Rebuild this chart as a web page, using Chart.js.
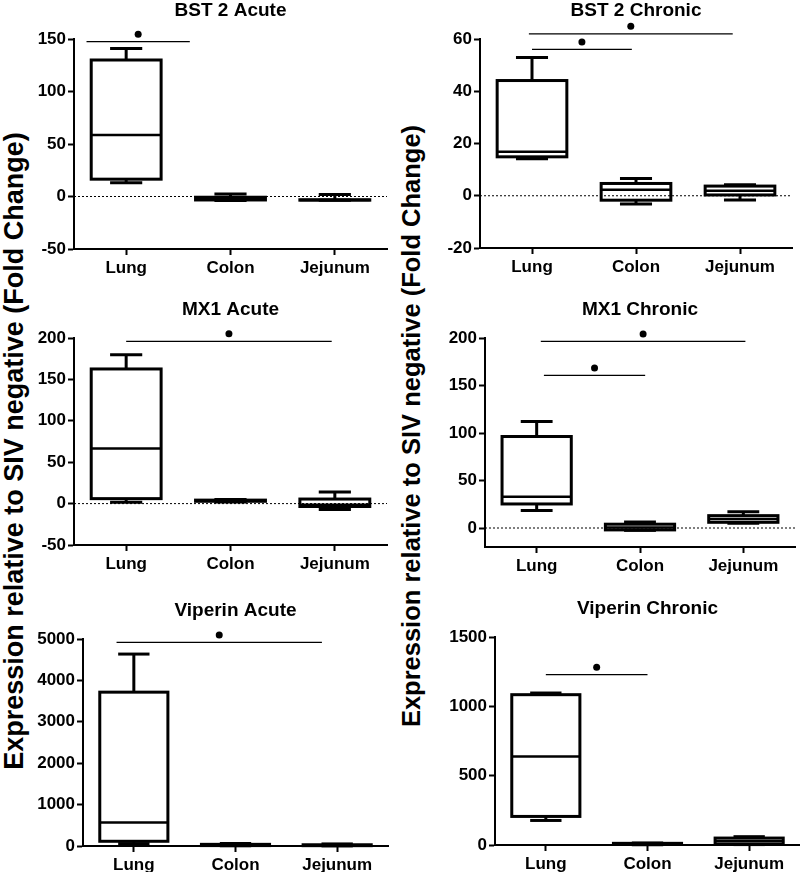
<!DOCTYPE html>
<html lang="en">
<head>
  <meta charset="UTF-8" />
  <title>ISG expression box plots</title>
  <script src="https://cdn.jsdelivr.net/npm/chart.js"></script>
  <style>
    body {
      margin: 0;
      background: #fff;
      width: 800px;
      height: 872px;
      overflow: hidden;
      position: relative;
      font-family: 'Liberation Sans', Arial, sans-serif;
    }
    canvas {
      position: absolute;
    }
    .ytitle {
      position: absolute;
      white-space: nowrap;
      font-weight: bold;
      color: #000;
      transform: translate(-50%, -50%) rotate(-90deg);
    }
  </style>
</head>
<body>
  <div class="ytitle" style="left:14px; top:451px; font-size:27px;">Expression relative to SIV negative (Fold Change)</div>
  <div class="ytitle" style="left:411px; top:426px; font-size:25.5px;">Expression relative to SIV negative (Fold Change)</div>

  <canvas id="bst2Acute"></canvas>
  <canvas id="bst2Chronic"></canvas>
  <canvas id="mx1Acute"></canvas>
  <canvas id="mx1Chronic"></canvas>
  <canvas id="viperinAcute"></canvas>
  <canvas id="viperinChronic"></canvas>

  <script>
    // ---- data ----
    const categories = ['Lung', 'Colon', 'Jejunum'];

    // each row: [min, q1, median, q3, max] for Lung, Colon, Jejunum
    const bst2Acute = [
      [13, 16.5, 58.5, 130, 141],
      [-3.8, -3.3, -2, -0.7, 2.5],
      [-3.6, -3.5, -3.3, -3.1, 2]
    ];
    const bst2Chronic = [
      [14.2, 14.9, 16.8, 44.1, 52.9],
      [-3.2, -1.7, 2.3, 4.7, 6.6],
      [-1.6, 0.3, 1.9, 3.7, 4.2]
    ];
    const mx1Acute = [
      [1.5, 6, 66.4, 162.6, 179.8],
      [2, 2.8, 3.5, 4.2, 5],
      [-7, -3.5, -1.5, 5.5, 14]
    ];
    const mx1Chronic = [
      [18.3, 25.3, 33, 96.3, 112],
      [-2.5, -2, 0.5, 4, 6.3],
      [5, 6, 9.5, 13, 17.2]
    ];
    const viperinAcute = [
      [58, 114, 567, 3716, 4636],
      [5, 10, 20, 40, 60],
      [3, 8, 15, 30, 50]
    ];
    const viperinChronic = [
      [177, 206, 639, 1084, 1096],
      [2, 4, 7, 12, 15],
      [3, 8, 28, 50, 60]
    ];

    // y axis ranges and tick labels
    const bst2AcuteRange = [-50, 150];
    const bst2ChronicRange = [-20, 60];
    const mx1AcuteRange = [-50, 200];
    const mx1ChronicRange = [-20, 200];
    const viperinAcuteRange = [0, 5000];
    const viperinChronicRange = [0, 1500];

    const bst2AcuteTicks = [-50, 0, 50, 100, 150];
    const bst2ChronicTicks = [-20, 0, 20, 40, 60];
    const mx1AcuteTicks = [-50, 0, 50, 100, 150, 200];
    const mx1ChronicTicks = [0, 50, 100, 150, 200];
    const viperinAcuteTicks = [0, 1000, 2000, 3000, 4000, 5000];
    const viperinChronicTicks = [0, 500, 1000, 1500];

    // significance bars: [from category, to category, y value]
    const bst2AcuteSig = [[-0.38, 0.61, 147.5]];
    const bst2ChronicSig = [[-0.03, 1.93, 62], [0, 0.96, 56]];
    const mx1AcuteSig = [[0, 1.97, 196]];
    const mx1ChronicSig = [[0.04, 2.02, 196.4], [0.07, 1.05, 160.6]];
    const viperinAcuteSig = [[-0.17, 1.85, 4918]];
    const viperinChronicSig = [[0, 1, 1228]];

    // ---- layout ----
    const FONT = "'Liberation Sans', Arial, sans-serif";
    const Y_W = 50, X_H = 30, PAD_TOP = 39, PAD_R = 4;

    Chart.defaults.font.family = FONT;
    Chart.defaults.color = '#000';

    // draws whiskers, box outlines, medians, zero line, significance bars and panel title
    const boxPlot = {
      id: 'boxPlot',
      afterDatasetsDraw(chart, args, opts) {
        const { ctx, chartArea } = chart;
        const x = chart.scales.x, y = chart.scales.y;
        const meta = chart.getDatasetMeta(0);
        ctx.save();
        ctx.strokeStyle = '#000';
        ctx.fillStyle = '#000';

        if (y.min < 0) {
          const zy = y.getPixelForValue(0);
          ctx.lineWidth = 1;
          ctx.setLineDash([2, 2]);
          ctx.beginPath();
          ctx.moveTo(chartArea.left, zy);
          ctx.lineTo(chartArea.right, zy);
          ctx.stroke();
          ctx.setLineDash([]);
        }

        const line = (x1, y1, x2, y2) => {
          ctx.beginPath();
          ctx.moveTo(x1, y1);
          ctx.lineTo(x2, y2);
          ctx.stroke();
        };

        opts.stats.forEach((s, i) => {
          const bar = meta.data[i];
          const cx = bar.x, hw = bar.width / 2, cw = hw * 0.46;
          const [mn, q1, md, q3, mx] = s.map(v => y.getPixelForValue(v));
          ctx.lineWidth = 3;
          line(cx, q3, cx, mx);
          line(cx, q1, cx, mn);
          line(cx - cw, mx, cx + cw, mx);
          line(cx - cw, mn, cx + cw, mn);
          ctx.strokeRect(cx - hw, q3, hw * 2, q1 - q3);
          ctx.lineWidth = 2.5;
          line(cx - hw, md, cx + hw, md);
        });

        ctx.lineWidth = 1.3;
        opts.sig.forEach(([a, b, v]) => {
          const x1 = x.getPixelForValue(a), x2 = x.getPixelForValue(b);
          const sy = y.getPixelForValue(v);
          line(x1, sy, x2, sy);
          ctx.beginPath();
          ctx.arc((x1 + x2) / 2, sy - 7.5, 3.5, 0, Math.PI * 2);
          ctx.fill();
        });

        ctx.font = 'bold 19px ' + FONT;
        ctx.textAlign = 'center';
        ctx.textBaseline = 'middle';
        ctx.fillText(opts.title, (chartArea.left + chartArea.right) / 2, chartArea.top - 28);
        ctx.restore();
      }
    };

    function makePanel(id, title, stats, range, ticks, sig, box) {
      const canvas = document.getElementById(id);
      const left = box.left - Y_W;
      const top = box.top - PAD_TOP;
      canvas.width = box.right - left + PAD_R;
      canvas.height = box.bottom - top + X_H;
      canvas.style.left = left + 'px';
      canvas.style.top = top + 'px';

      const axisGrid = {
        display: true,
        drawOnChartArea: false,
        tickLength: 6,
        tickWidth: 2,
        tickColor: '#000'
      };
      const tickFont = { size: 17, weight: 'bold' };

      new Chart(canvas.getContext('2d'), {
        type: 'bar',
        data: {
          labels: categories,
          datasets: [{
            data: stats.map(s => [s[1], s[3]]),
            backgroundColor: '#fff',
            borderWidth: 0,
            barPercentage: 0.67,
            categoryPercentage: 1
          }]
        },
        options: {
          responsive: false,
          animation: false,
          events: [],
          layout: { padding: { top: PAD_TOP, right: PAD_R, left: 0, bottom: 0 } },
          plugins: {
            legend: { display: false },
            tooltip: { enabled: false },
            boxPlot: { title: title, stats: stats, sig: sig }
          },
          scales: {
            x: {
              type: 'category',
              offset: true,
              grid: Object.assign({ offset: false }, axisGrid),
              border: { display: true, color: '#000', width: 2 },
              ticks: { color: '#000', font: tickFont, padding: 3, maxRotation: 0 },
              afterFit: s => { s.height = X_H; }
            },
            y: {
              type: 'linear',
              min: range[0],
              max: range[1],
              grid: axisGrid,
              border: { display: true, color: '#000', width: 2 },
              ticks: { color: '#000', font: tickFont, padding: 2, callback: v => String(v) },
              afterBuildTicks: s => { s.ticks = ticks.map(v => ({ value: v })); },
              afterFit: s => { s.width = Y_W; }
            }
          }
        },
        plugins: [boxPlot]
      });
    }

    makePanel('bst2Acute', 'BST 2 Acute', bst2Acute, bst2AcuteRange, bst2AcuteTicks, bst2AcuteSig,
      { left: 74, right: 387, top: 39, bottom: 249 });
    makePanel('bst2Chronic', 'BST 2 Chronic', bst2Chronic, bst2ChronicRange, bst2ChronicTicks, bst2ChronicSig,
      { left: 480, right: 792, top: 39, bottom: 248 });
    makePanel('mx1Acute', 'MX1 Acute', mx1Acute, mx1AcuteRange, mx1AcuteTicks, mx1AcuteSig,
      { left: 74, right: 387, top: 338, bottom: 545 });
    makePanel('mx1Chronic', 'MX1 Chronic', mx1Chronic, mx1ChronicRange, mx1ChronicTicks, mx1ChronicSig,
      { left: 485, right: 795, top: 338, bottom: 547 });
    makePanel('viperinAcute', 'Viperin Acute', viperinAcute, viperinAcuteRange, viperinAcuteTicks, viperinAcuteSig,
      { left: 83, right: 388, top: 639, bottom: 846 });
    makePanel('viperinChronic', 'Viperin Chronic', viperinChronic, viperinChronicRange, viperinChronicTicks, viperinChronicSig,
      { left: 495, right: 800, top: 637, bottom: 845 });
  </script>
</body>
</html>
